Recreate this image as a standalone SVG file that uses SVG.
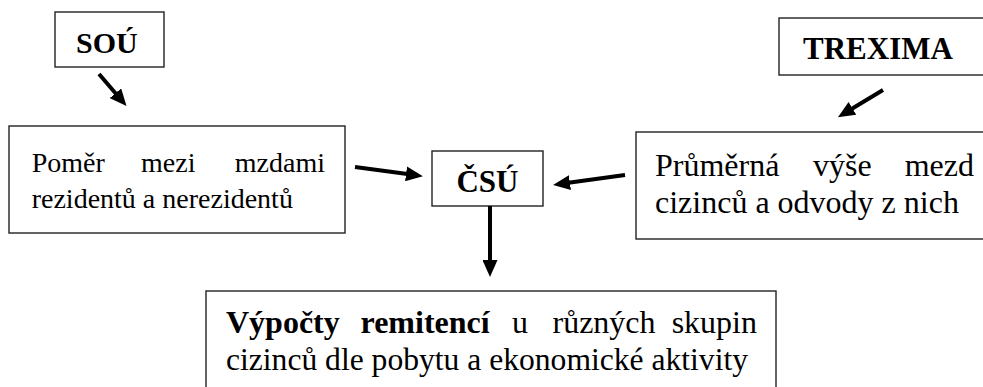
<svg xmlns="http://www.w3.org/2000/svg" width="983" height="387" viewBox="0 0 983 387">
<defs>
<marker id="ah" markerUnits="userSpaceOnUse" markerWidth="17" markerHeight="15" refX="7" refY="7.5" orient="auto">
<path d="M0,0 L17,7.5 L0,15 Z" fill="#000"/>
</marker>
</defs>
<rect width="983" height="387" fill="#fff"/>
<g id="sou">
<rect x="55" y="12" width="109" height="55" fill="#fff" stroke="#222" stroke-width="1.4"/>
<text x="76" y="53" style="font-family:'Liberation Serif';font-size:30px;font-weight:bold">SOÚ</text>
</g>
<g id="trexima">
<rect x="779" y="18" width="215" height="57" fill="#fff" stroke="#222" stroke-width="1.4"/>
<text x="803" y="59" font-family="Times New Roman" font-size="31" font-weight="bold">TREXIMA</text>
</g>
<g id="pomer">
<rect x="9" y="126" width="336" height="107" fill="#fff" stroke="#222" stroke-width="1.4"/>
<text x="31.7" y="172" style="font-family:serif;font-size:28px">Poměr</text>
<text x="141" y="172" style="font-family:serif;font-size:28px">mezi</text>
<text x="325" y="172" text-anchor="end" style="font-family:serif;font-size:28px">mzdami</text>
<text x="31.7" y="208" style="font-family:serif;font-size:28px">rezidentů a nerezidentů</text>
</g>
<g id="csu">
<rect x="432" y="151" width="111" height="55" fill="#fff" stroke="#222" stroke-width="1.4"/>
<text x="487.5" y="192" text-anchor="middle" font-family="Tinos" font-size="31" font-weight="bold">ČSÚ</text>
</g>
<g id="prumerna">
<rect x="636" y="132" width="358" height="107" fill="#fff" stroke="#222" stroke-width="1.4"/>
<text x="655" y="176" style="font-family:'Liberation Serif';font-size:32px">Průměrná</text>
<text x="813" y="176" style="font-family:'Liberation Serif';font-size:32px">výše</text>
<text x="974" y="176" text-anchor="end" style="font-family:'Liberation Serif';font-size:32px">mezd</text>
<text x="655" y="213" style="font-family:'Liberation Serif';font-size:32px">cizinců a odvody z nich</text>
</g>
<g id="vypocty">
<rect x="206" y="291" width="570" height="120" fill="#fff" stroke="#222" stroke-width="1.4"/>
<text x="226" y="333" font-family="Times New Roman" font-size="32" font-weight="bold">Výpočty</text>
<text x="360.5" y="333" font-family="Times New Roman" font-size="32" font-weight="bold">remitencí</text>
<text x="512" y="333" font-family="Times New Roman" font-size="32">u</text>
<text x="552.5" y="333" font-family="Times New Roman" font-size="32">různých</text>
<text x="757" y="333" text-anchor="end" font-family="Times New Roman" font-size="32">skupin</text>
<text x="226" y="370" font-family="Times New Roman" font-size="31.6">cizinců dle pobytu a ekonomické aktivity</text>
</g>
<g id="connectors" stroke="#000" stroke-width="4" fill="none" marker-end="url(#ah)">
<line x1="99" y1="74" x2="120" y2="98.5"/>
<line x1="355" y1="167" x2="413" y2="174.8"/>
<line x1="625" y1="175" x2="563" y2="183.6"/>
<line x1="490" y1="206" x2="490" y2="267"/>
<line x1="883" y1="90" x2="846.5" y2="112"/>
</g>
</svg>
